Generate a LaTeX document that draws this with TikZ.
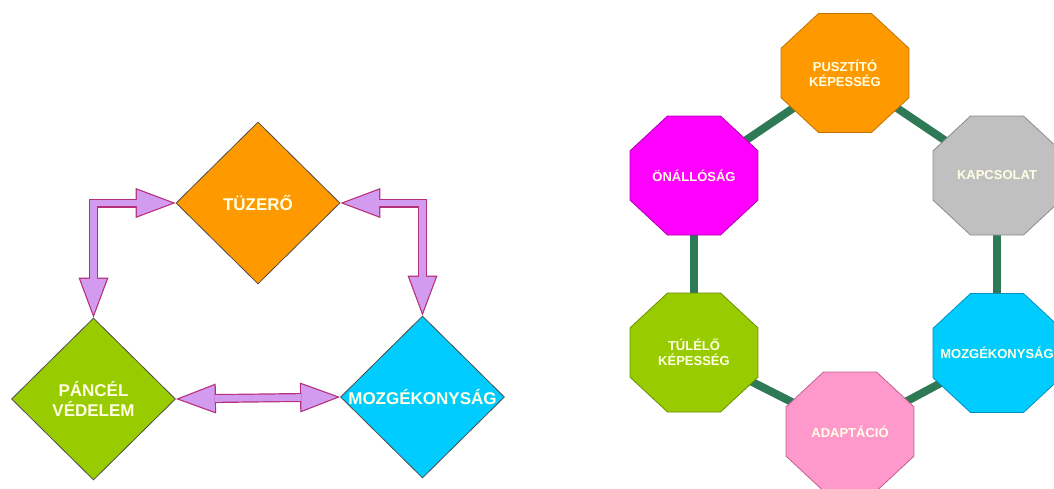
\documentclass[tikz,border=0pt]{standalone}
\usepackage{fontspec}
\setmainfont{Liberation Sans}
\usetikzlibrary{shapes.geometric,arrows.meta,backgrounds}

\definecolor{cOrange}{HTML}{FF9900}
\definecolor{cOrangeB}{HTML}{C07400}
\definecolor{cGreen}{HTML}{99CC00}
\definecolor{cGreenB}{HTML}{6A8F00}
\definecolor{cBlue}{HTML}{00CCFF}
\definecolor{cBlueB}{HTML}{0090C0}
\definecolor{cMagenta}{HTML}{FF00FF}
\definecolor{cMagentaB}{HTML}{B000B0}
\definecolor{cGrey}{HTML}{C0C0C0}
\definecolor{cGreyB}{HTML}{8C8C8C}
\definecolor{cPink}{HTML}{FF99CC}
\definecolor{cPinkB}{HTML}{C06090}
\definecolor{cLink}{HTML}{2E7A57}
\definecolor{cArrFill}{HTML}{D29BEF}
\definecolor{cArrLine}{HTML}{B4307A}
\definecolor{cText}{HTML}{FFFFE4}

\begin{document}
\begin{tikzpicture}[x=1pt,y=-1pt,
  diam/.style={diamond, aspect=1, draw=black!70, line width=0.8pt,
    minimum width=164pt, minimum height=162pt, inner sep=0pt},
  dtext/.style={font=\fontsize{17}{20}\selectfont\bfseries, text=cText,
    align=center, inner sep=0pt},
  % octagon: regular polygon, squashed a little in its scope
  octa/.style={regular polygon, regular polygon sides=8, minimum size=138.5pt,
    inner sep=0pt, line width=0.8pt, transform shape},
  octscope/.style={yscale=0.93},
  otext/.style={font=\fontsize{13}{15}\selectfont\bfseries, text=cText,
    align=center, inner sep=0pt},
  link/.style={draw=cLink, line width=8pt},
  arrouter/.style={draw=cArrLine, line width=9pt, line join=miter,
    {Triangle[length=40pt,width=30pt,line width=0pt]}-{Triangle[length=40pt,width=30pt,line width=0pt]}},
  arrinner/.style={draw=cArrFill, line width=6.6pt, line join=miter,
    shorten <=3.4pt, shorten >=3.4pt,
    {Triangle[length=35.4pt,width=26.5pt,line width=0pt]}-{Triangle[length=35.4pt,width=26.5pt,line width=0pt]}}
]
\useasboundingbox (0,0) rectangle (1054,488);
\clip (0,0) rectangle (1054,488);

% ---- three capabilities (diamonds) ----
\node[diam, fill=cOrange] (tuz) at (258,203) {};
\node[dtext] (tuzt) at (tuz.center) {TÜZERŐ};
\node[diam, fill=cGreen] (pan) at (93.5,399) {};
\node[dtext] (pant) at (pan.center) {PÁNCÉL\\VÉDELEM};
\node[diam, fill=cBlue] (moz) at (422.5,397) {};
\node[dtext] (mozt) at (moz.center) {MOZGÉKONYSÁG};

% double-headed block arrows
\draw[arrouter] (tuz.west) -| (pan.north);
\draw[arrinner] (tuz.west) -| (pan.north);
\draw[arrouter] (tuz.east) -| (moz.north);
\draw[arrinner] (tuz.east) -| (moz.north);
\draw[arrouter] (pan.east) -- (moz.west);
\draw[arrinner] (pan.east) -- (moz.west);

% ---- ring of six capabilities (octagons) ----
\begin{scope}[shift={(845,73)}, octscope]
  \node[octa, fill=cOrange, draw=cOrangeB] (pus) at (0,0) {};
\end{scope}
\begin{scope}[shift={(694,175.5)}, octscope]
  \node[octa, fill=cMagenta, draw=cMagentaB] (ona) at (0,0) {};
\end{scope}
\begin{scope}[shift={(997,175.5)}, octscope]
  \node[octa, fill=cGrey, draw=cGreyB] (kap) at (0,0) {};
\end{scope}
\begin{scope}[shift={(694,352.5)}, octscope]
  \node[octa, fill=cGreen, draw=cGreenB] (tul) at (0,0) {};
\end{scope}
\begin{scope}[shift={(997,353)}, octscope]
  \node[octa, fill=cBlue, draw=cBlueB] (mob) at (0,0) {};
\end{scope}
\begin{scope}[shift={(850,431.5)}, octscope]
  \node[octa, fill=cPink, draw=cPinkB] (ada) at (0,0) {};
\end{scope}

\node[otext] (pust) at (pus.center) {PUSZTÍTÓ\\KÉPESSÉG};
\node[otext] (onat) at (ona.center) {ÖNÁLLÓSÁG};
\node[otext] (kapt) at (kap.center) {KAPCSOLAT};
\node[otext] (tult) at (tul.center) {TÚLÉLŐ\\KÉPESSÉG};
\node[otext] (mobt) at (mob.center) {MOZGÉKONYSÁG};
\node[otext] (adat) at (ada.center) {ADAPTÁCIÓ};

\begin{pgfonlayer}{background}
  \draw[link] (pus.center) -- (ona.center);
  \draw[link] (pus.center) -- (kap.center);
  \draw[link] (ona.center) -- (tul.center);
  \draw[link] (kap.center) -- (mob.center);
  \draw[link] (tul.center) -- (ada.center);
  \draw[link] (ada.center) -- (mob.center);
\end{pgfonlayer}
\end{tikzpicture}
\end{document}
